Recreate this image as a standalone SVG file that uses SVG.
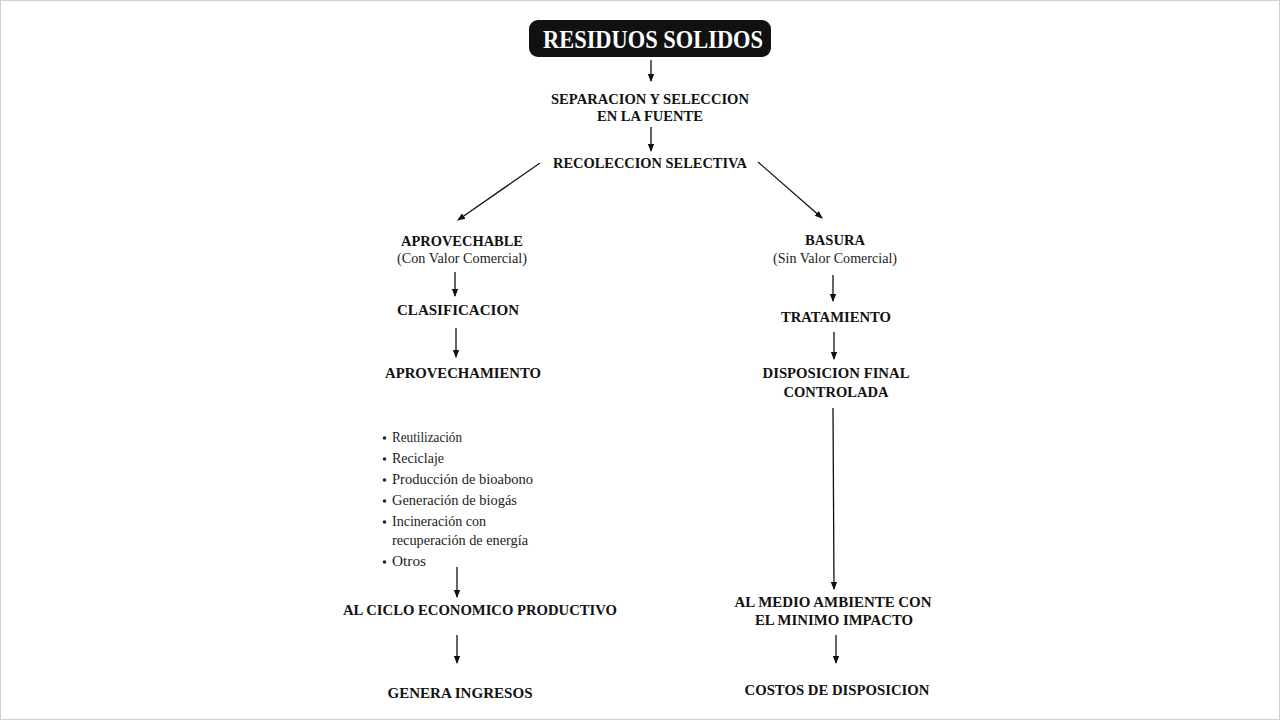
<svg xmlns="http://www.w3.org/2000/svg" width="1280" height="720" viewBox="0 0 1280 720">
<defs>
<marker id="ah" markerWidth="8" markerHeight="8" refX="7" refY="4" orient="auto" markerUnits="userSpaceOnUse">
<path d="M0,0.8 L8,4 L0,7.2 Z" fill="#111"/>
</marker>
<style>
.h{font-family:"Liberation Serif","Times New Roman",serif;font-weight:bold;font-size:15px;fill:#111;text-anchor:middle}
.r{font-family:"Liberation Serif","Times New Roman",serif;font-size:14px;fill:#222;text-anchor:middle}
.b{font-family:"Liberation Serif","Times New Roman",serif;font-size:14px;fill:#222}
.c line{stroke:#111;stroke-width:1.3;marker-end:url(#ah)}
</style>
</defs>
<rect x="0" y="0" width="1280" height="720" fill="#fff"/>
<rect x="0.5" y="0.5" width="1279" height="719" fill="none" stroke="#d0d0d0" stroke-width="1"/>

<g id="residuos">
<rect x="529" y="20" width="242" height="37" rx="9" fill="#111"/>
<text x="653" y="48" style="font-family:'Liberation Serif','Times New Roman',serif;font-weight:bold;font-size:26px;fill:#fff;text-anchor:middle" textLength="220" lengthAdjust="spacingAndGlyphs">RESIDUOS SOLIDOS</text>
</g>
<g id="separacion">
<text class="h" x="650" y="104" textLength="198" lengthAdjust="spacingAndGlyphs">SEPARACION Y SELECCION</text>
<text class="h" x="650" y="121" textLength="106" lengthAdjust="spacingAndGlyphs">EN LA FUENTE</text>
</g>
<g id="recoleccion">
<text class="h" x="650" y="168" textLength="194" lengthAdjust="spacingAndGlyphs">RECOLECCION SELECTIVA</text>
</g>
<g id="aprovechable">
<text class="h" x="462" y="246" textLength="122" lengthAdjust="spacingAndGlyphs">APROVECHABLE</text>
<text class="r" x="462" y="263" textLength="130" lengthAdjust="spacingAndGlyphs">(Con Valor Comercial)</text>
</g>
<g id="clasificacion">
<text class="h" x="458" y="315" textLength="122" lengthAdjust="spacingAndGlyphs">CLASIFICACION</text>
</g>
<g id="aprovechamiento">
<text class="h" x="463" y="378" textLength="156" lengthAdjust="spacingAndGlyphs">APROVECHAMIENTO</text>
</g>
<g id="opciones">
<circle cx="384.5" cy="438" r="1.8" fill="#222"/>
<text class="b" x="392" y="442" textLength="70" lengthAdjust="spacingAndGlyphs">Reutilización</text>
<circle cx="384.5" cy="459" r="1.8" fill="#222"/>
<text class="b" x="392" y="463" textLength="52" lengthAdjust="spacingAndGlyphs">Reciclaje</text>
<circle cx="384.5" cy="480" r="1.8" fill="#222"/>
<text class="b" x="392" y="484" textLength="141" lengthAdjust="spacingAndGlyphs">Producción de bioabono</text>
<circle cx="384.5" cy="501" r="1.8" fill="#222"/>
<text class="b" x="392" y="505" textLength="125" lengthAdjust="spacingAndGlyphs">Generación de biogás</text>
<circle cx="384.5" cy="522" r="1.8" fill="#222"/>
<text class="b" x="392" y="526" textLength="94" lengthAdjust="spacingAndGlyphs">Incineración con</text>
<text class="b" x="392" y="545" textLength="136" lengthAdjust="spacingAndGlyphs">recuperación de energía</text>
<circle cx="384.5" cy="562" r="1.8" fill="#222"/>
<text class="b" x="392" y="566" textLength="34" lengthAdjust="spacingAndGlyphs">Otros</text>
</g>
<g id="ciclo">
<text class="h" x="480" y="615" textLength="274" lengthAdjust="spacingAndGlyphs">AL CICLO ECONOMICO PRODUCTIVO</text>
</g>
<g id="ingresos">
<text class="h" x="460" y="698" textLength="145" lengthAdjust="spacingAndGlyphs">GENERA INGRESOS</text>
</g>
<g id="basura">
<text class="h" x="835" y="245" textLength="60" lengthAdjust="spacingAndGlyphs">BASURA</text>
<text class="r" x="835" y="263" textLength="124" lengthAdjust="spacingAndGlyphs">(Sin Valor Comercial)</text>
</g>
<g id="tratamiento">
<text class="h" x="836" y="322" textLength="110" lengthAdjust="spacingAndGlyphs">TRATAMIENTO</text>
</g>
<g id="disposicion">
<text class="h" x="836" y="378" textLength="147" lengthAdjust="spacingAndGlyphs">DISPOSICION FINAL</text>
<text class="h" x="836" y="397" textLength="105" lengthAdjust="spacingAndGlyphs">CONTROLADA</text>
</g>
<g id="medio">
<text class="h" x="833" y="607" textLength="197" lengthAdjust="spacingAndGlyphs">AL MEDIO AMBIENTE CON</text>
<text class="h" x="834" y="625" textLength="158" lengthAdjust="spacingAndGlyphs">EL MINIMO IMPACTO</text>
</g>
<g id="costos">
<text class="h" x="837" y="695" textLength="185" lengthAdjust="spacingAndGlyphs">COSTOS DE DISPOSICION</text>
</g>

<g id="connectors" class="c">
<line x1="651" y1="60" x2="651" y2="81"/>
<line x1="651" y1="127" x2="651" y2="151"/>
<line x1="540" y1="163" x2="458" y2="220"/>
<line x1="758" y1="162" x2="822" y2="218"/>
<line x1="455" y1="272" x2="455" y2="296"/>
<line x1="456" y1="328" x2="456" y2="357"/>
<line x1="457" y1="567" x2="457" y2="597"/>
<line x1="457" y1="635" x2="457" y2="663"/>
<line x1="833" y1="275" x2="833" y2="301"/>
<line x1="834" y1="332" x2="834" y2="359"/>
<line x1="833" y1="408" x2="834" y2="589"/>
<line x1="836" y1="635" x2="836" y2="663"/>
</g>
</svg>
